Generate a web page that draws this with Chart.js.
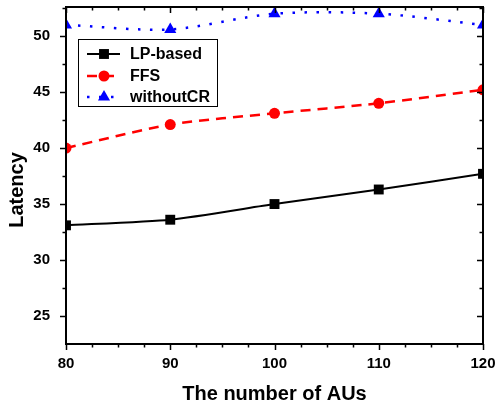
<!DOCTYPE html>
<html>
<head>
<meta charset="utf-8">
<script src="https://cdn.jsdelivr.net/npm/chart.js@4/dist/chart.umd.min.js"></script>
<style>
  html, body { margin: 0; padding: 0; background: #fff; }
  #wrap { width: 499px; height: 410px; }
</style>
</head>
<body>
<div id="wrap"><canvas id="chart" width="499" height="410"></canvas></div>
<script>
// data
const auCounts = [80, 90, 100, 110, 120];
const lpBased = [33.1, 33.6, 35.0, 36.3, 37.7];
const ffs = [40.0, 42.1, 43.1, 44.0, 45.2];
const withoutCR = [51.0, 50.6, 52.0, 52.0, 51.0];
const xTicks = [80, 90, 100, 110, 120];
const yTicks = [25, 30, 35, 40, 45, 50];

const FONT = 'Arial, "Liberation Sans", sans-serif';

const toPoints = (ys) => auCounts.map((x, i) => ({ x, y: ys[i] }));

// stop the scales from asking for extra room for overhanging labels
const noPad = (s) => { s.paddingTop = 0; s.paddingBottom = 0; s.paddingLeft = 0; s.paddingRight = 0; };

// frame, ticks (major + minor on all four sides), axis titles, inset legend
const decor = {
    id: 'decor',
    afterDraw(chart) {
        const { ctx, chartArea: a, scales: { x, y } } = chart;
        ctx.save();
        ctx.strokeStyle = '#000';
        ctx.lineWidth = 2;
        ctx.strokeRect(a.left, a.top, a.right - a.left, a.bottom - a.top);

        ctx.lineWidth = 1.5;
        ctx.beginPath();
        for (let v = x.min; v <= x.max + 0.01; v += 2.5) {
            const px = Math.round(x.getPixelForValue(v)) + 0.5;
            const len = v % 10 === 0 ? 6 : 3.5;
            ctx.moveTo(px, a.bottom); ctx.lineTo(px, a.bottom + len);
            ctx.moveTo(px, a.top); ctx.lineTo(px, a.top + len);
        }
        for (let v = 25; v <= y.max + 0.01; v += 2.5) {
            const py = Math.round(y.getPixelForValue(v)) + 0.5;
            const len = v % 5 === 0 ? 6 : 3.5;
            ctx.moveTo(a.left, py); ctx.lineTo(a.left - len, py);
            ctx.moveTo(a.right, py); ctx.lineTo(a.right - len, py);
        }
        ctx.stroke();

        // axis titles
        ctx.fillStyle = '#000';
        ctx.font = 'bold 20px ' + FONT;
        ctx.textAlign = 'center';
        ctx.textBaseline = 'middle';
        ctx.fillText('The number of AUs', (a.left + a.right) / 2, 394);
        ctx.save();
        ctx.translate(17, 190);
        ctx.rotate(-Math.PI / 2);
        ctx.fillText('Latency', 0, 0);
        ctx.restore();

        // legend box
        ctx.lineWidth = 1;
        ctx.strokeRect(78.5, 39.5, 139, 67);
        ctx.font = 'bold 16px ' + FONT;
        ctx.textAlign = 'left';
        const rows = [54, 76, 97];
        chart.data.datasets.forEach((ds, i) => {
            const ry = rows[i];
            ctx.save();
            ctx.strokeStyle = ds.borderColor;
            ctx.lineWidth = ds.borderWidth;
            ctx.setLineDash(ds.borderDash || []);
            ctx.beginPath();
            ctx.moveTo(87, ry); ctx.lineTo(120, ry);
            ctx.stroke();
            ctx.setLineDash([]);
            ctx.fillStyle = ds.pointBackgroundColor;
            Chart.helpers.drawPoint(ctx, {
                pointStyle: ds.pointStyle, radius: ds.pointRadius, rotation: 0, borderWidth: 0
            }, 104, ry);
            ctx.restore();
            ctx.fillText(ds.label, 130, ry + 1);
        });
        ctx.restore();
    }
};

new Chart(document.getElementById('chart'), {
    type: 'line',
    data: {
        datasets: [{
            label: 'LP-based',
            data: toPoints(lpBased),
            borderColor: '#000',
            borderWidth: 2,
            pointStyle: 'rect',
            pointRadius: 7,
            pointBackgroundColor: '#000',
            pointBorderWidth: 0,
            tension: 0.2
        }, {
            label: 'FFS',
            data: toPoints(ffs),
            borderColor: '#ff0000',
            borderWidth: 2.5,
            borderDash: [10, 7],
            pointStyle: 'circle',
            pointRadius: 5.5,
            pointBackgroundColor: '#ff0000',
            pointBorderWidth: 0,
            tension: 0.25
        }, {
            label: 'withoutCR',
            data: toPoints(withoutCR),
            borderColor: '#0000ff',
            borderWidth: 2.5,
            borderDash: [2.5, 9.5],
            pointStyle: 'triangle',
            pointRadius: 7,
            pointBackgroundColor: '#0000ff',
            pointBorderWidth: 0,
            tension: 0.3
        }]
    },
    options: {
        responsive: false,
        animation: false,
        layout: { padding: { top: 7, right: 16, left: 0, bottom: 0 } },
        plugins: {
            legend: { display: false },
            tooltip: { enabled: false }
        },
        scales: {
            x: {
                type: 'linear',
                min: 80,
                max: 120,
                afterBuildTicks: (s) => { s.ticks = xTicks.map(v => ({ value: v })); },
                afterFit: (s) => { s.height = 66; noPad(s); },
                grid: { display: false },
                border: { display: false },
                ticks: {
                    color: '#000',
                    padding: 3,
                    maxRotation: 0,
                    font: { size: 15, weight: 'bold', family: FONT }
                }
            },
            y: {
                min: 22.5,
                max: 52.6,
                afterBuildTicks: (s) => { s.ticks = yTicks.map(v => ({ value: v })); },
                afterFit: (s) => { s.width = 66; noPad(s); },
                grid: { display: false },
                border: { display: false },
                ticks: {
                    color: '#000',
                    padding: 8,
                    font: { size: 15, weight: 'bold', family: FONT }
                }
            }
        }
    },
    plugins: [decor]
});
</script>
</body>
</html>
